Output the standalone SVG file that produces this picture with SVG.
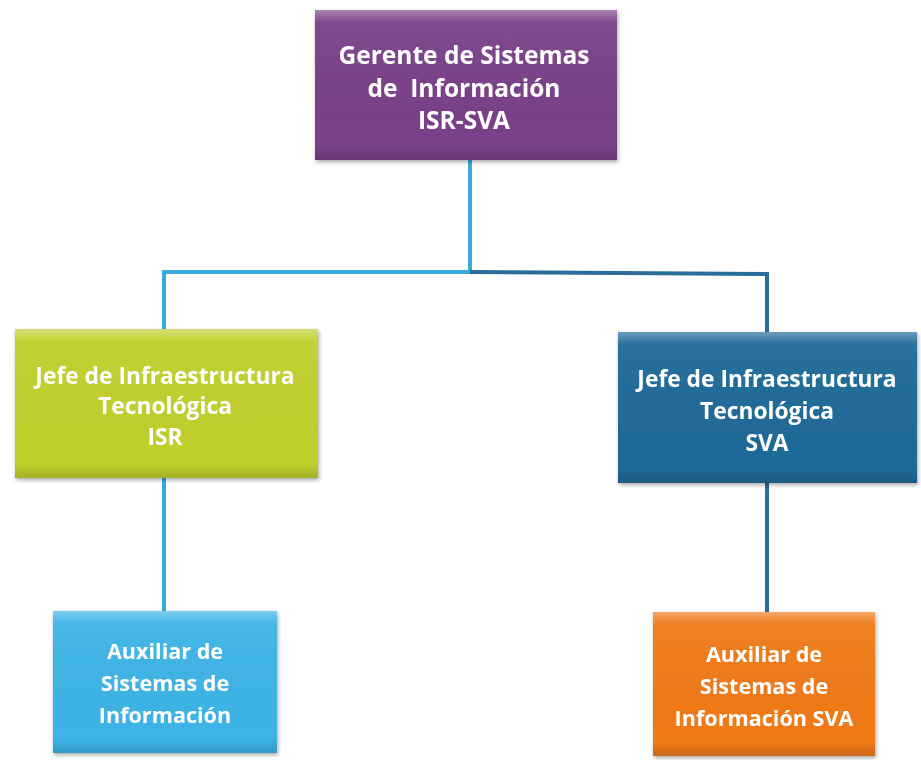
<svg xmlns="http://www.w3.org/2000/svg" width="921" height="760" viewBox="0 0 921 760">
<defs>
<style>
.t{font-family:"Open Sans","Liberation Sans",sans-serif;font-weight:bold;fill:#ffffff;text-anchor:middle;white-space:pre;}
.c1{stroke:#3aaade;stroke-width:4;fill:none;}
.c2{stroke:#2a6d9b;stroke-width:4;fill:none;}
.bev{fill:url(#shine);}
</style>
<linearGradient id="shine" x1="0" y1="0" x2="0" y2="1">
<stop offset="0" stop-color="#ffffff" stop-opacity="0.35"/>
<stop offset="0.08" stop-color="#ffffff" stop-opacity="0.05"/>
<stop offset="0.9" stop-color="#000000" stop-opacity="0"/>
<stop offset="1" stop-color="#000000" stop-opacity="0.15"/>
</linearGradient>
<filter id="sh" x="-10%" y="-10%" width="120%" height="130%">
<feGaussianBlur in="SourceAlpha" stdDeviation="2"/>
<feOffset dx="1" dy="2" result="b"/>
<feComponentTransfer><feFuncA type="linear" slope="0.35"/></feComponentTransfer>
<feMerge><feMergeNode/><feMergeNode in="SourceGraphic"/></feMerge>
</filter>
</defs>
<rect width="921" height="760" fill="#ffffff"/>
<g id="connectors">
<polyline class="c1" points="470,160 470,272 164,272 164,330"/>
<polyline class="c2" points="470,272 767,274 767,332"/>
<line class="c1" x1="164" y1="478" x2="164" y2="611"/>
<line class="c2" x1="767" y1="483" x2="767" y2="612"/>
</g>
<g id="gerente" filter="url(#sh)">
<rect x="315" y="10" width="302" height="150" fill="#7a4189"/>
<rect x="315" y="10" width="302" height="150" class="bev"/>
<text class="t" font-size="24.5"><tspan x="464" y="64">Gerente de Sistemas</tspan><tspan x="464" y="97">de  Información</tspan><tspan x="464" y="129">ISR-SVA</tspan></text>
</g>
<g id="jefe-isr" filter="url(#sh)">
<rect x="15" y="329" width="303" height="149" fill="#c1cf2c"/>
<rect x="15" y="329" width="303" height="149" class="bev"/>
<text class="t" font-size="22.8"><tspan x="165" y="384">Jefe de Infraestructura</tspan><tspan x="165" y="414">Tecnológica</tspan><tspan x="165" y="445">ISR</tspan></text>
</g>
<g id="jefe-sva" filter="url(#sh)">
<rect x="618" y="332" width="299" height="151" fill="#1f6a98"/>
<rect x="618" y="332" width="299" height="151" class="bev"/>
<text class="t" font-size="22.8"><tspan x="767" y="387">Jefe de Infraestructura</tspan><tspan x="767" y="419">Tecnológica</tspan><tspan x="767" y="451">SVA</tspan></text>
</g>
<g id="auxiliar-isr" filter="url(#sh)">
<rect x="53" y="611" width="224" height="142" fill="#3db4e6"/>
<rect x="53" y="611" width="224" height="142" class="bev"/>
<text class="t" font-size="21.6"><tspan x="165" y="659">Auxiliar de</tspan><tspan x="165" y="691">Sistemas de</tspan><tspan x="165" y="723">Información</tspan></text>
</g>
<g id="auxiliar-sva" filter="url(#sh)">
<rect x="653" y="612" width="222" height="144" fill="#f07a18"/>
<rect x="653" y="612" width="222" height="144" class="bev"/>
<text class="t" font-size="21.6"><tspan x="764" y="662">Auxiliar de</tspan><tspan x="764" y="694">Sistemas de</tspan><tspan x="764" y="726">Información SVA</tspan></text>
</g>
</svg>
